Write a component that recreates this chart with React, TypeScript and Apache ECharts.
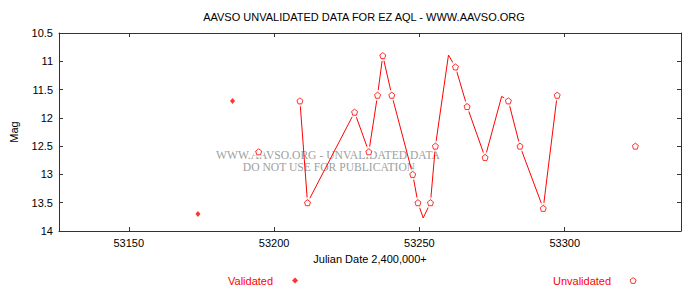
import React, { useEffect, useRef } from "react";
import * as echarts from "echarts";

const titleText = "AAVSO UNVALIDATED DATA FOR EZ AQL - WWW.AAVSO.ORG";
const xTicks = [53150, 53200, 53250, 53300];
const xMin = 53126;
const xMax = 53340;
const yMin = 10.5;
const yMax = 14;

// Validated observations [JD, mag]
const validated: [number, number][] = [
  [53173.8, 13.7],
  [53185.7, 11.7],
];

// Unvalidated observations [JD, mag]
const unvalidated: [number, number][] = [
  [53194.7, 12.6],
  [53208.9, 11.7],
  [53211.5, 13.5],
  [53227.7, 11.9],
  [53232.6, 12.6],
  [53235.6, 11.6],
  [53237.4, 10.9],
  [53240.5, 11.6],
  [53247.7, 13.0],
  [53249.5, 13.5],
  [53253.8, 13.5],
  [53255.5, 12.5],
  [53262.4, 11.1],
  [53266.4, 11.8],
  [53272.6, 12.7],
  [53280.6, 11.7],
  [53284.6, 12.5],
  [53292.6, 13.6],
  [53297.4, 11.6],
  [53324.3, 12.5],
];

// Vertices of the red curve [JD, mag]
const curve: [number, number][] = [
  [53208.9, 11.7],
  [53211.5, 13.5],
  [53227.7, 11.9],
  [53232.6, 12.6],
  [53235.6, 11.6],
  [53237.4, 10.9],
  [53240.5, 11.6],
  [53247.7, 13.0],
  [53249.5, 13.5],
  [53251.3, 13.77],
  [53253.8, 13.5],
  [53255.5, 12.5],
  [53260.0, 10.89],
  [53262.4, 11.1],
  [53266.4, 11.8],
  [53272.6, 12.7],
  [53278.3, 11.62],
  [53280.6, 11.7],
  [53284.6, 12.5],
  [53292.6, 13.6],
  [53297.4, 11.6],
];

const pentagon =
  "path://M0,-1 L0.951,-0.309 L0.588,0.809 L-0.588,0.809 L-0.951,-0.309 Z";

const SANS = "'Liberation Sans', Arial, Helvetica, sans-serif";
const SERIF = "'Liberation Serif', 'Times New Roman', serif";

export default function App() {
  const ref = useRef<HTMLDivElement>(null);

  useEffect(() => {
    document.body.style.margin = "0";
    if (!ref.current) return;
    const chart = echarts.init(ref.current, undefined, { renderer: "svg" });

    const axisLine = { show: true, lineStyle: { color: "#333", width: 1 } };
    const tickStyle = { lineStyle: { color: "#333", width: 1 } };

    chart.setOption({
      animation: false,
      backgroundColor: "#fff",
      grid: { left: 55, right: 19, top: 33, bottom: 55, containLabel: false },
      xAxis: [
        {
          type: "value",
          min: xMin,
          max: xMax,
          position: "bottom",
          axisLine,
          splitLine: { show: false },
          axisTick: {
            show: true,
            inside: true,
            length: 4,
            customValues: xTicks,
            ...tickStyle,
          },
          axisLabel: {
            show: true,
            customValues: xTicks,
            formatter: (v: number) => String(v),
            margin: 6,
            color: "#000",
            fontFamily: SANS,
            fontSize: 11,
          },
          name: "Julian Date 2,400,000+",
          nameLocation: "middle",
          nameGap: 22,
          nameTextStyle: { color: "#000", fontFamily: SANS, fontSize: 11 },
        },
        {
          type: "value",
          min: xMin,
          max: xMax,
          position: "top",
          axisLine,
          splitLine: { show: false },
          axisTick: {
            show: true,
            inside: true,
            length: 4,
            customValues: xTicks,
            ...tickStyle,
          },
          axisLabel: { show: false },
        },
      ],
      yAxis: [
        {
          type: "value",
          min: yMin,
          max: yMax,
          interval: 0.5,
          inverse: true,
          position: "left",
          axisLine,
          splitLine: { show: false },
          axisTick: { show: true, inside: true, length: 4, ...tickStyle },
          axisLabel: {
            margin: 6,
            color: "#000",
            fontFamily: SANS,
            fontSize: 11,
          },
          name: "Mag",
          nameLocation: "middle",
          nameGap: 40,
          nameTextStyle: { color: "#000", fontFamily: SANS, fontSize: 11 },
        },
        {
          type: "value",
          min: yMin,
          max: yMax,
          interval: 0.5,
          inverse: true,
          position: "right",
          axisLine,
          splitLine: { show: false },
          axisTick: { show: true, inside: true, length: 4, ...tickStyle },
          axisLabel: { show: false },
        },
      ],
      legend: [
        {
          data: [
            {
              name: "Validated",
              icon: "diamond",
              itemStyle: { color: "#ff0000", borderWidth: 0 },
            },
          ],
          left: 228,
          top: 275,
          padding: 0,
          align: "right",
          itemWidth: 6,
          itemHeight: 6,
          selectedMode: false,
          textStyle: {
            color: "#ff0000",
            fontFamily: SANS,
            fontSize: 11,
            padding: [0, 14, 0, 0],
          },
        },
        {
          data: [
            {
              name: "Unvalidated",
              icon: pentagon,
              itemStyle: { color: "#fff", borderColor: "#ff0000", borderWidth: 1 },
            },
          ],
          left: 553,
          top: 275,
          padding: 0,
          align: "right",
          itemWidth: 6,
          itemHeight: 6,
          selectedMode: false,
          textStyle: {
            color: "#ff0000",
            fontFamily: SANS,
            fontSize: 11,
            padding: [0, 14, 0, 0],
          },
        },
      ],
      graphic: [
        {
          type: "text",
          x: 364,
          y: 17,
          style: {
            text: titleText,
            fill: "#000",
            font: `11px ${SANS}`,
            textAlign: "center",
            textVerticalAlign: "middle",
          },
        },
        {
          type: "text",
          x: 328,
          y: 155,
          z: -10,
          silent: true,
          style: {
            text: "WWW.AAVSO.ORG - UNVALIDATED DATA",
            fill: "#a0a0a0",
            font: `11.6px ${SERIF}`,
            textAlign: "center",
            textVerticalAlign: "middle",
          },
        },
        {
          type: "text",
          x: 329,
          y: 167,
          z: -10,
          silent: true,
          style: {
            text: "DO NOT USE FOR PUBLICATION",
            fill: "#a0a0a0",
            font: `11.6px ${SERIF}`,
            textAlign: "center",
            textVerticalAlign: "middle",
          },
        },
      ],
      series: [
        {
          name: "curve",
          type: "line",
          data: curve,
          showSymbol: false,
          symbol: "none",
          silent: true,
          z: 1,
          lineStyle: { color: "#ff0000", width: 1 },
        },
        {
          name: "gap",
          type: "scatter",
          data: unvalidated,
          symbol: "circle",
          symbolSize: 11,
          silent: true,
          z: 2,
          itemStyle: { color: "#fff", borderWidth: 0 },
        },
        {
          name: "Validated",
          type: "scatter",
          data: validated,
          symbol: "diamond",
          symbolSize: [5, 6],
          z: 3,
          itemStyle: { color: "#ff0000" },
        },
        {
          name: "Unvalidated",
          type: "scatter",
          data: unvalidated,
          symbol: pentagon,
          symbolSize: 6,
          z: 3,
          itemStyle: { color: "#fff", borderColor: "#ff0000", borderWidth: 1 },
        },
      ],
    });

    return () => chart.dispose();
  }, []);

  return <div ref={ref} style={{ width: 700, height: 286 }} />;
}
